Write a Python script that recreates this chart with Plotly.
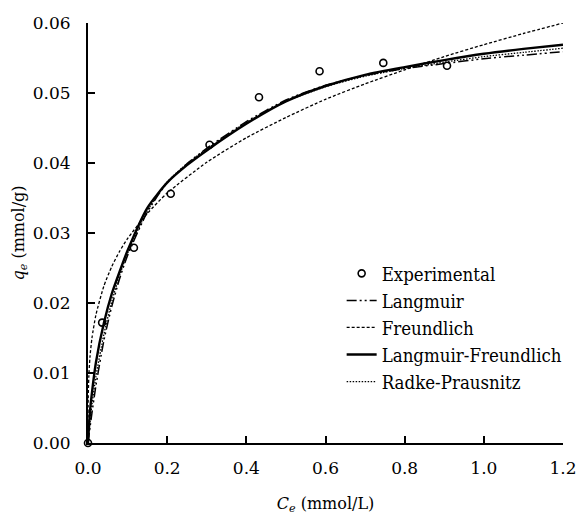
import plotly.graph_objects as go

# Experimental data
exp_c = [0.0, 0.0357, 0.116, 0.209, 0.307, 0.432, 0.585, 0.746, 0.907]
exp_q = [0.0, 0.0172, 0.0279, 0.0356, 0.0426, 0.0494, 0.0531, 0.0543, 0.0539]

# Model curves
fit_c = [0.0, 0.005, 0.01, 0.02, 0.04, 0.06, 0.08, 0.1, 0.15, 0.2, 0.25, 0.3,
         0.4, 0.5, 0.6, 0.7, 0.8, 0.9, 1.0, 1.1, 1.2]
langmuir_q = [0.0, 0.0022, 0.0043, 0.0082, 0.0146, 0.0195, 0.0235, 0.0268, 0.0330,
              0.0372, 0.0399, 0.0421, 0.0459, 0.0490, 0.0511, 0.0525, 0.0535,
              0.0542, 0.0549, 0.0554, 0.0559]
lf_q = [0.0, 0.0045, 0.0072, 0.0115, 0.0171, 0.0213, 0.0245, 0.0275, 0.0336,
        0.0372, 0.0397, 0.0418, 0.0456, 0.0488, 0.0510, 0.0526, 0.0537,
        0.0547, 0.0556, 0.0563, 0.0569]
rp_q = [0.0, 0.0030, 0.0055, 0.0095, 0.0155, 0.0202, 0.0240, 0.0271, 0.0332,
        0.0373, 0.0399, 0.0420, 0.0458, 0.0488, 0.0509, 0.0524, 0.0535,
        0.0544, 0.0552, 0.0558, 0.0564]

fr_c = [0.0, 0.0005, 0.002, 0.005, 0.01, 0.02, 0.04, 0.06, 0.08, 0.1, 0.15, 0.2,
        0.3, 0.4, 0.5, 0.6, 0.7, 0.8, 0.9, 1.0, 1.1, 1.2]
fr_q = [0.0, 0.0063, 0.0094, 0.0123, 0.0150, 0.0183, 0.0224, 0.0252, 0.0274,
        0.0292, 0.0328, 0.0357, 0.0401, 0.0436, 0.0465, 0.0491, 0.0513,
        0.0533, 0.0552, 0.0569, 0.0585, 0.0600]

x_ticks = [0.0, 0.2, 0.4, 0.6, 0.8, 1.0, 1.2]
y_ticks = [0.00, 0.01, 0.02, 0.03, 0.04, 0.05, 0.06]

FONT = "DejaVu Serif"
LFONT = "DejaVu Serif Condensed, DejaVu Serif"
FS = 17

fig = go.Figure()
fig.add_trace(go.Scatter(x=exp_c, y=exp_q, mode="markers", name="Experimental",
                         marker=dict(symbol="circle-open", size=7, color="black",
                                     line=dict(width=1.6, color="black")),
                         cliponaxis=False))
fig.add_trace(go.Scatter(x=fit_c, y=langmuir_q, mode="lines", name="Langmuir",
                         line=dict(color="black", width=1.5, dash="10px,3px,2px,3px,2px,3px",
                                   shape="spline", smoothing=0.6)))
fig.add_trace(go.Scatter(x=fr_c, y=fr_q, mode="lines", name="Freundlich",
                         line=dict(color="black", width=1.3, dash="3px,2px",
                                   shape="spline", smoothing=0.6)))
fig.add_trace(go.Scatter(x=fit_c, y=lf_q, mode="lines", name="Langmuir-Freundlich",
                         line=dict(color="black", width=2.4, shape="spline", smoothing=0.6)))
fig.add_trace(go.Scatter(x=fit_c, y=rp_q, mode="lines", name="Radke-Prausnitz",
                         line=dict(color="black", width=1.3, dash="1.5px,1.5px",
                                   shape="spline", smoothing=0.6)))

axis_common = dict(showline=True, linecolor="black", linewidth=2, ticks="inside",
                   ticklen=7, tickwidth=2, tickcolor="black", showgrid=False,
                   zeroline=False, mirror=False, automargin=False,
                   ticklabeloverflow="allow",
                   tickfont=dict(family=FONT, size=FS, color="black"))

fig.update_layout(
    template="none",
    width=576, height=520,
    margin=dict(l=88, r=13, t=23, b=77, autoexpand=False),
    paper_bgcolor="white", plot_bgcolor="white",
    font=dict(family=FONT, size=FS, color="black"),
    xaxis=dict(range=[0, 1.2], tickvals=x_ticks, tickformat=".1f",
               ticklabelstandoff=9,
               title=dict(text="<i>C</i><sub><i>e</i></sub> (mmol/L)",
                          font=dict(family=FONT, size=16), standoff=20),
               **axis_common),
    yaxis=dict(range=[0, 0.06], tickvals=y_ticks, tickformat=".2f",
               ticklabelstandoff=12,
               title=dict(text="<i>q</i><sub><i>e</i></sub> (mmol/g)",
                          font=dict(family=FONT, size=16), standoff=4),
               **axis_common),
    showlegend=True,
    legend=dict(x=0.534, y=0.448, xanchor="left", yanchor="top",
                bgcolor="rgba(0,0,0,0)", font=dict(family=LFONT, size=18.5),
                itemwidth=30, tracegroupgap=0),
)

fig.write_html("out.html")
